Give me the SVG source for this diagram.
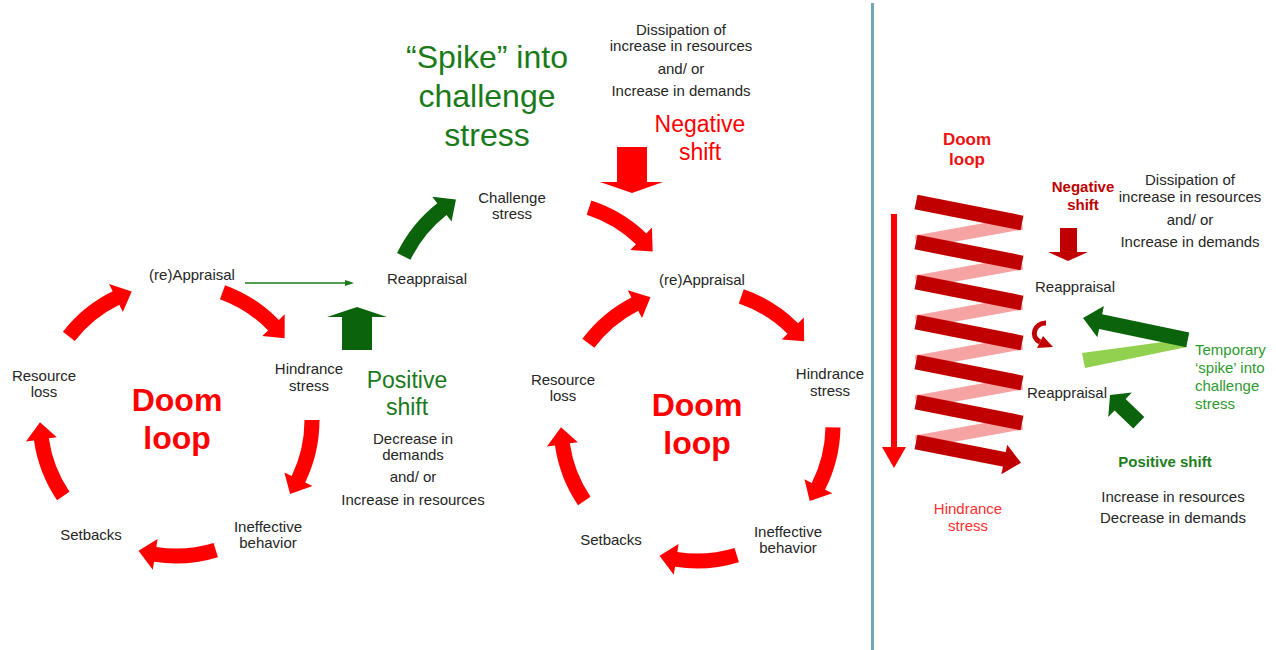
<svg xmlns="http://www.w3.org/2000/svg" width="1276" height="650" viewBox="0 0 1276 650">
  <style>
    text { font-family: "Liberation Sans", Arial, sans-serif; }
    .lbl { font-size: 15px; fill: #262626; text-anchor: middle; }
    .doom { font-size: 32px; font-weight: bold; fill: #ff0000; text-anchor: middle; }
    .big { font-size: 23px; text-anchor: middle; }
    .red { fill: #ff0000; }
    .green { fill: #1a7a1a; }
    .cyc { fill: #ff0000; }
    .dkred { fill: #c00000; }
    .dkgreen { fill: #0b640b; }
    .bar { stroke: #c00000; stroke-width: 15; fill: none; }
    .back { stroke: #f6a3a3; stroke-width: 13; fill: none; }
  </style>
  <defs>
    <!-- curved block arrow following a circle of radius 136 around the origin, spanning 0..33 degrees -->
    <path id="arc-arrow" d="M143.5,0 A143.5,143.5 0 0 1 129.19,62.45 L136.5,66 L114.06,74.07 L108.4,52.4 L115.69,55.92 A128.5,128.5 0 0 0 128.5,0 Z"/>
  </defs>

  <rect x="0" y="0" width="1276" height="650" fill="#ffffff"/>

  <!-- panel divider -->
  <line x1="872.5" y1="3" x2="872.5" y2="650" stroke="#74a6b9" stroke-width="3"/>

  <g id="connectors">
    <!-- left doom loop -->
    <g transform="translate(176,420)" class="cyc">
      <use href="#arc-arrow" transform="rotate(-70)"/>
      <use href="#arc-arrow" transform="rotate(0)"/>
      <use href="#arc-arrow" transform="rotate(73)"/>
      <use href="#arc-arrow" transform="rotate(146)"/>
      <use href="#arc-arrow" transform="rotate(218)"/>
    </g>
    <!-- middle doom loop -->
    <g transform="translate(697,425)" class="cyc">
      <use href="#arc-arrow" transform="rotate(-71)"/>
      <use href="#arc-arrow" transform="rotate(1)"/>
      <use href="#arc-arrow" transform="rotate(73)"/>
      <use href="#arc-arrow" transform="rotate(146)"/>
      <use href="#arc-arrow" transform="rotate(217)"/>
    </g>
    <!-- reappraisal to challenge stress -->
    <use href="#arc-arrow" class="dkgreen" transform="translate(526,316) rotate(206)"/>
    <!-- challenge stress back into the loop -->
    <use href="#arc-arrow" class="cyc" transform="translate(547,337) rotate(-72)"/>

    <!-- thin link (re)Appraisal to Reappraisal -->
    <line x1="245" y1="283" x2="347" y2="283" stroke="#1a7a1a" stroke-width="1.4"/>
    <polygon points="345,280 354,283 345,286" fill="#1a7a1a"/>

    <!-- positive shift block arrow -->
    <polygon class="dkgreen" points="342,350 372,350 372,317 387,317 357,307 327,317 342,317"/>
    <!-- negative shift block arrow -->
    <polygon class="red" points="617,147 647,147 647,182 663,182 632,193 600,182 617,182"/>

    <!-- right panel: descending arrow -->
    <rect x="891" y="214" width="6" height="234" fill="#ff0000"/>
    <polygon points="882,447 906,447 894,468" fill="#ff0000"/>

    <!-- coil, back segments -->
    <g class="back">
      <line x1="1022" y1="223" x2="916" y2="242"/>
      <line x1="1022" y1="263" x2="916" y2="282"/>
      <line x1="1022" y1="303" x2="916" y2="322"/>
      <line x1="1022" y1="343" x2="916" y2="362"/>
      <line x1="1022" y1="383" x2="916" y2="402"/>
      <line x1="1022" y1="423" x2="916" y2="442"/>
    </g>
    <!-- coil, front segments -->
    <g class="bar">
      <line x1="916" y1="202" x2="1022" y2="223"/>
      <line x1="916" y1="242" x2="1022" y2="263"/>
      <line x1="916" y1="282" x2="1022" y2="303"/>
      <line x1="916" y1="322" x2="1022" y2="343"/>
      <line x1="916" y1="362" x2="1022" y2="383"/>
      <line x1="916" y1="402" x2="1022" y2="423"/>
      <line x1="916" y1="442" x2="1005" y2="459.5"/>
    </g>
    <polygon class="dkred" points="1007.2,444.8 1021,462.8 1001.4,474.2"/>

    <!-- small curl -->
    <path d="M1046,323 C1034,323 1030,337 1040,342" fill="none" stroke="#c00000" stroke-width="5"/>
    <polygon class="dkred" points="1043,336 1053,347 1037,348"/>

    <!-- right negative shift arrow -->
    <polygon class="dkred" points="1060,228 1077,228 1077,252 1088,252 1068,261 1048,252 1060,252"/>

    <!-- temporary spike -->
    <polygon points="1082,353 1185,339 1187,347 1085,368" fill="#92d050"/>
    <path class="dkgreen" transform="translate(1083,318) rotate(11.8)" d="M0,0 L18,-16 L18,-7.5 L107,-7.5 L107,7.5 L18,7.5 L18,16 Z"/>

    <!-- right positive shift arrow -->
    <path class="dkgreen" transform="translate(1110,395) rotate(44)" d="M0,0 L14,-17 L14,-8 L40,-8 L40,8 L14,8 L14,17 Z"/>
  </g>

  <!-- left loop -->
  <g id="left-appraisal"><text class="lbl" x="192" y="280">(re)Appraisal</text></g>
  <g id="left-hindrance"><text class="lbl" x="309" y="374">Hindrance</text><text class="lbl" x="309" y="391">stress</text></g>
  <g id="left-ineffective"><text class="lbl" x="268" y="532">Ineffective</text><text class="lbl" x="268" y="548">behavior</text></g>
  <g id="left-setbacks"><text class="lbl" x="91" y="540">Setbacks</text></g>
  <g id="left-resource"><text class="lbl" x="44" y="381">Resource</text><text class="lbl" x="44" y="397">loss</text></g>
  <g id="left-doom"><text class="doom" x="177" y="411">Doom</text><text class="doom" x="177" y="449">loop</text></g>

  <!-- shift between loops -->
  <g id="reappraisal"><text class="lbl" x="427" y="284">Reappraisal</text></g>
  <g id="challenge"><text class="lbl" x="512" y="203">Challenge</text><text class="lbl" x="512" y="219">stress</text></g>
  <g id="spike">
    <text class="green" x="487" y="68" font-size="32" text-anchor="middle">“Spike” into</text>
    <text class="green" x="487" y="107" font-size="32" text-anchor="middle">challenge</text>
    <text class="green" x="487" y="146" font-size="32" text-anchor="middle">stress</text>
  </g>
  <g id="positive-shift">
    <text class="big green" x="407" y="388">Positive</text>
    <text class="big green" x="407" y="415">shift</text>
    <text class="lbl" x="413" y="444">Decrease in</text>
    <text class="lbl" x="413" y="460">demands</text>
    <text class="lbl" x="413" y="482">and/ or</text>
    <text class="lbl" x="413" y="505">Increase in resources</text>
  </g>
  <g id="negative-shift">
    <text class="big red" x="700" y="132">Negative</text>
    <text class="big red" x="700" y="160">shift</text>
    <text class="lbl" x="681" y="35">Dissipation of</text>
    <text class="lbl" x="681" y="51">increase in resources</text>
    <text class="lbl" x="681" y="74">and/ or</text>
    <text class="lbl" x="681" y="96">Increase in demands</text>
  </g>

  <!-- middle loop -->
  <g id="mid-appraisal"><text class="lbl" x="702" y="285">(re)Appraisal</text></g>
  <g id="mid-hindrance"><text class="lbl" x="830" y="379">Hindrance</text><text class="lbl" x="830" y="396">stress</text></g>
  <g id="mid-ineffective"><text class="lbl" x="788" y="537">Ineffective</text><text class="lbl" x="788" y="553">behavior</text></g>
  <g id="mid-setbacks"><text class="lbl" x="611" y="545">Setbacks</text></g>
  <g id="mid-resource"><text class="lbl" x="563" y="385">Resource</text><text class="lbl" x="563" y="401">loss</text></g>
  <g id="mid-doom"><text class="doom" x="697" y="416">Doom</text><text class="doom" x="697" y="454">loop</text></g>

  <!-- right panel -->
  <g id="coil-doom">
    <text x="967" y="145" font-size="17" font-weight="bold" fill="#ee1111" text-anchor="middle">Doom</text>
    <text x="967" y="165" font-size="17" font-weight="bold" fill="#ee1111" text-anchor="middle">loop</text>
  </g>
  <g id="coil-hindrance">
    <text x="968" y="514" font-size="15" fill="#ff3030" text-anchor="middle">Hindrance</text>
    <text x="968" y="531" font-size="15" fill="#ff3030" text-anchor="middle">stress</text>
  </g>
  <g id="coil-negative">
    <text class="dkred" x="1083" y="192" font-size="15" font-weight="bold" text-anchor="middle">Negative</text>
    <text class="dkred" x="1083" y="210" font-size="15" font-weight="bold" text-anchor="middle">shift</text>
    <text class="lbl" x="1190" y="185">Dissipation of</text>
    <text class="lbl" x="1190" y="202">increase in resources</text>
    <text class="lbl" x="1190" y="225">and/ or</text>
    <text class="lbl" x="1190" y="247">Increase in demands</text>
  </g>
  <g id="coil-reappraisal-upper"><text class="lbl" x="1075" y="292">Reappraisal</text></g>
  <g id="coil-reappraisal-lower"><text class="lbl" x="1067" y="398">Reappraisal</text></g>
  <g id="coil-spike" font-size="15" fill="#2e9a2e">
    <text x="1195" y="355">Temporary</text>
    <text x="1195" y="373">‘spike’ into</text>
    <text x="1195" y="391">challenge</text>
    <text x="1195" y="409">stress</text>
  </g>
  <g id="coil-positive">
    <text x="1165" y="467" font-size="15" font-weight="bold" fill="#1e7d1e" text-anchor="middle">Positive shift</text>
    <text class="lbl" x="1173" y="502">Increase in resources</text>
    <text class="lbl" x="1173" y="523">Decrease in demands</text>
  </g>
</svg>
